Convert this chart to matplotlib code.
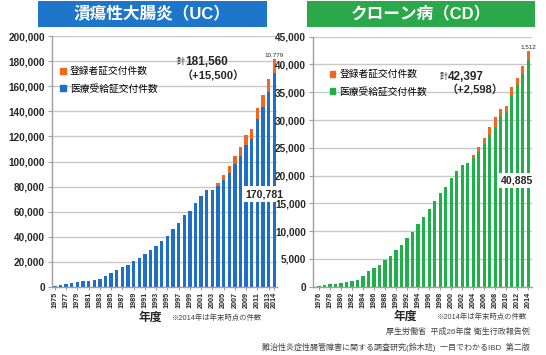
import matplotlib
matplotlib.use("Agg")
import matplotlib.pyplot as plt
from matplotlib.patches import Rectangle, Patch

plt.rcParams['font.family'] = ['Liberation Sans', 'Noto Sans CJK JP']

# ---------------- data ----------------
uc_years = list(range(1975, 2015))
uc_medical = [965, 1500, 2400, 2900, 3800, 4400, 5000, 5600, 6200, 8900,
              11500, 13600, 15600, 17900, 20800, 23000, 26400, 29300, 32800, 37000,
              41000, 46100, 51000, 57000, 60800, 66600, 72800, 77000, 77400, 80400,
              85400, 90600, 97700, 104500, 113000, 118000, 133800, 143700, 155100, 170781]
uc_registered = [0] * 29 + [2500, 4000, 5800, 7000, 7300, 8000, 8200, 8500, 9100, 10960, 10779]

cd_years = list(range(1976, 2015))
cd_medical = [200, 300, 490, 540, 670, 850, 970, 1260, 1980, 2770,
              3420, 3960, 4800, 5580, 6550, 7560, 8760, 9900, 11230, 12550,
              13930, 15370, 16780, 17900, 19600, 20880, 21840, 22320, 23160, 24300,
              25690, 27360, 28690, 30730, 31500, 34500, 36300, 38230, 40885]
cd_registered = [0] * 28 + [540, 900, 1010, 1440, 1800, 1320, 1090, 1400, 1330, 1570, 1512]

uc_title = "潰瘍性大腸炎（UC）"
cd_title = "クローン病（CD）"
leg_reg = "登録者証交付件数"
leg_med = "医療受給証交付件数"
uc_total = "181,560"
uc_diff = "（+15,500）"
cd_total = "42,397"
cd_diff = "（+2,598）"
note = "※2014年は年末時点の件数"
src1 = "厚生労働省  平成26年度 衛生行政報告例"
src2 = "難治性炎症性腸管障害に関する調査研究(鈴木班)  一目でわかるIBD  第二版"

BLUE = "#1f6fc8"
GREEN = "#20b04b"
ORANGE = "#f4661b"
TBLUE = "#1d76c9"
TGREEN = "#2aa84a"
GRID = "#c8c8c8"
TXT = "#262626"

W, H = 546, 355
fig = plt.figure(figsize=(W / 100, H / 100), dpi=100)


def fx(px):
    return px / W


def fy(py):
    return 1 - py / H


def setup(ax, ymax, step, labels_years, every):
    ax.set_ylim(0, ymax)
    ax.set_yticks(range(0, ymax + 1, step))
    ax.set_yticklabels([f"{v:,}" for v in range(0, ymax + 1, step)],
                       fontsize=7.2, fontweight='bold', color=TXT)
    ax.yaxis.grid(True, color=GRID, lw=1.0)
    ax.set_axisbelow(True)
    for s in ['top', 'right']:
        ax.spines[s].set_visible(False)
    for s in ['left', 'bottom']:
        ax.spines[s].set_color('#a0a0a0')
        ax.spines[s].set_linewidth(1.0)
    ax.tick_params(axis='y', length=3, color='#a0a0a0', pad=2)
    ticks = [i for i, y in enumerate(labels_years) if every(y)]
    ax.set_xticks(ticks)
    ax.set_xticklabels([str(labels_years[i]) for i in ticks], rotation=90,
                       fontsize=5.2, fontweight='bold', color=TXT)
    ax.tick_params(axis='x', length=2, color='#a0a0a0', pad=1.5)


def total_label(ax, x, y, total, diff, dx_diff):
    ax.text(x, y, "計", transform=ax.transAxes, fontsize=6, ha='right', va='center', color=TXT)
    ax.text(x + 0.003, y, total, transform=ax.transAxes, fontsize=8.5, fontweight='bold',
            ha='left', va='center', color=TXT)
    ax.text(x + dx_diff, y - 0.055, diff, transform=ax.transAxes, fontsize=8, fontweight='bold',
            ha='left', va='center', color=TXT)


# ---------------- UC ----------------
ax1 = fig.add_axes([fx(52), fy(287), fx(277 - 52), (287 - 36) / H])
x1 = list(range(len(uc_years)))
ax1.bar(x1, uc_medical, width=0.6, color=BLUE, zorder=2)
ax1.bar(x1, uc_registered, bottom=uc_medical, width=0.6, color=ORANGE, zorder=2)
ax1.set_xlim(-0.5, 39.5)
setup(ax1, 200000, 20000, uc_years, lambda y: y % 2 == 1 or y == 2014)
ax1.legend(handles=[Patch(color=ORANGE), Patch(color=BLUE)], labels=[leg_reg, leg_med],
           loc='upper left', bbox_to_anchor=(0.02, 0.895), frameon=False, fontsize=7,
           handlelength=0.55, handleheight=0.55, handletextpad=0.4, labelspacing=0.75,
           borderaxespad=0)
ax1.text(39, uc_medical[-1] + uc_registered[-1] + 1500, f"{uc_registered[-1]:,}",
         ha='center', va='bottom', fontsize=4.5, color=TXT)
total_label(ax1, 0.59, 0.895, uc_total, uc_diff, -0.015)
ax1.text(37.2, 74000, f"{uc_medical[-1]:,}", ha='center', va='center', fontsize=7.6,
         fontweight='bold', color=TXT, zorder=5,
         bbox=dict(boxstyle='square,pad=0.25', fc='white', ec='none'))

# ---------------- CD ----------------
ax2 = fig.add_axes([fx(313), fy(286.7), fx(532 - 313), (286.7 - 36.7) / H])
x2 = list(range(len(cd_years)))
ax2.bar(x2, cd_medical, width=0.6, color=GREEN, zorder=2)
ax2.bar(x2, cd_registered, bottom=cd_medical, width=0.6, color=ORANGE, zorder=2)
ax2.set_xlim(-1.09, 38.67)
setup(ax2, 45000, 5000, cd_years, lambda y: y % 2 == 0)
ax2.legend(handles=[Patch(color=ORANGE), Patch(color=GREEN)], labels=[leg_reg, leg_med],
           loc='upper left', bbox_to_anchor=(0.06, 0.885), frameon=False, fontsize=7,
           handlelength=0.55, handleheight=0.55, handletextpad=0.4, labelspacing=0.75,
           borderaxespad=0)
ax2.text(38, cd_medical[-1] + cd_registered[-1] + 350, f"{cd_registered[-1]:,}",
         ha='center', va='bottom', fontsize=4.5, color=TXT)
total_label(ax2, 0.615, 0.84, cd_total, cd_diff, -0.005)
ax2.text(35.9, 19100, f"{cd_medical[-1]:,}", ha='center', va='center', fontsize=7.6,
         fontweight='bold', color=TXT, zorder=5,
         bbox=dict(boxstyle='square,pad=0.25', fc='white', ec='none'))

# ---------------- titles ----------------
fig.patches.append(Rectangle((fx(38), fy(27)), fx(267 - 38), 26 / H, transform=fig.transFigure,
                             fc=TBLUE, ec='none'))
fig.patches.append(Rectangle((fx(307), fy(27)), fx(535 - 307), 26 / H, transform=fig.transFigure,
                             fc=TGREEN, ec='none'))
fig.text(fx(152), fy(14.5), uc_title, color='white', fontsize=12, fontweight='bold',
         ha='center', va='center')
fig.text(fx(421), fy(14.5), cd_title, color='white', fontsize=12, fontweight='bold',
         ha='center', va='center')

# ---------------- bottom texts ----------------
fig.text(fx(150), fy(318), "年度", fontsize=8.5, fontweight='bold', ha='center', va='center', color=TXT)
fig.text(fx(172), fy(318), note, fontsize=5.3, ha='left', va='center', color='#444444')
fig.text(fx(405), fy(317), "年度", fontsize=8.5, fontweight='bold', ha='center', va='center', color=TXT)
fig.text(fx(437), fy(317), note, fontsize=5.3, ha='left', va='center', color='#444444')
fig.text(fx(530), fy(332), src1, fontsize=5.8, ha='right', va='center', color='#444444')
fig.text(fx(530), fy(347), src2, fontsize=5.8, ha='right', va='center', color='#444444')

fig.savefig("out.png", dpi=100)
